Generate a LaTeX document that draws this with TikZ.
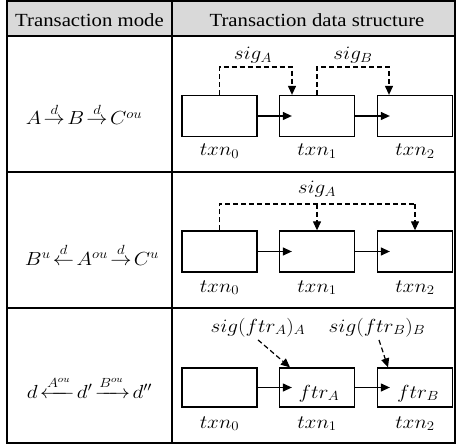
\documentclass[tikz,border=0pt]{standalone}
\usepackage{fix-cm}
\usepackage{amsmath}
\usepackage{fontspec}
\setmainfont{Liberation Serif}
\usetikzlibrary{arrows.meta}
\newcommand{\hs}[1]{\scalebox{1.12}[1]{#1}}
\tikzset{
  tbl/.style={line width=1.3bp, draw=black},
  tbox/.style={draw=black, line width=1.3bp, rectangle, minimum width=75bp, minimum height=41bp, inner sep=0pt},
  lbl/.style={anchor=base, inner sep=0pt, font=\fontsize{19}{21}\selectfont},
  hdrtxt/.style={anchor=base, inner sep=0pt, font=\fontsize{18.6}{20}\selectfont},
  arr/.style={line width=1.2bp, -{Triangle[length=9bp,width=8bp]}},
  dsh/.style={line width=1.2bp, dash pattern=on 5bp off 3bp},
  dsharr/.style={dsh, -{Triangle[length=9bp,width=8bp]}}
}
\begin{document}
\begin{tikzpicture}[x=1bp,y=-1bp]
\useasboundingbox (0,0) rectangle (457,445);
% table
\fill[black!15] (7,1) rectangle (455,36);
\draw[tbl] (7,1) rectangle (455,443);
\draw[tbl] (7,36) -- (455,36);
\draw[tbl] (7,172) -- (455,172);
\draw[tbl] (7,308) -- (455,308);
\draw[tbl] (172,1) -- (172,443);
% header
\node[hdrtxt] (h1) at (89.5,27) {\hs{Transaction mode}};
\node[hdrtxt] (h2) at (317,27) {\hs{Transaction data structure}};
% left column
\node[lbl] (m1) at (84,125) {\hs{$A\!\stackrel{d}{\to}\!B\!\stackrel{d}{\to}\!C^{ou}$}};
\node[lbl] (m2) at (92,265) {\hs{$B^{u}\!\stackrel{d}{\leftarrow}\!A^{ou}\!\stackrel{d}{\to}\!C^{u}$}};
\node[lbl] (m3) at (89.5,398) {\hs{$d\!\xleftarrow{A^{ou}}\!d'\!\xrightarrow{B^{ou}}\!d''$}};
% row 1
\node[tbox] (b10) at (219.5,116) {};
\node[tbox] (b11) at (317,116) {};
\node[tbox] (b12) at (415,116) {};
\draw[arr] (b10.east) -- ([xshift=13bp]b11.west);
\draw[arr] (b11.east) -- ([xshift=13bp]b12.west);
\node[lbl] (t10) at (219.5,156) {\hs{$txn_0$}};
\node[lbl] (t11) at (317,156) {\hs{$txn_1$}};
\node[lbl] (t12) at (415,156) {\hs{$txn_2$}};
\coordinate (r1a) at (219.5,67);
\coordinate (r1b) at (292,67);
\coordinate (r1c) at (317,67);
\coordinate (r1d) at (389,67);
\draw[dsharr] (b10.north) -- (r1a) -- (r1b) -- (r1b |- b11.north);
\draw[dsharr] (b11.north) -- (r1c) -- (r1d) -- (r1d |- b12.north);
\node[lbl] (s1a) at (253,60) {\hs{$sig_A$}};
\node[lbl] (s1b) at (353,60) {\hs{$sig_B$}};
% row 2
\node[tbox] (b20) at (219.5,251.5) {};
\node[tbox] (b21) at (317,251.5) {};
\node[tbox] (b22) at (415,251.5) {};
\draw[arr] (b20.east) -- ([xshift=13bp]b21.west);
\draw[arr] (b21.east) -- ([xshift=13bp]b22.west);
\node[lbl] (t20) at (219.5,292) {\hs{$txn_0$}};
\node[lbl] (t21) at (317,292) {\hs{$txn_1$}};
\node[lbl] (t22) at (415,292) {\hs{$txn_2$}};
\coordinate (r2a) at (219.5,204);
\coordinate (r2b) at (317,204);
\coordinate (r2c) at (415,204);
\draw[dsh] (b20.north) -- (r2a) -- (r2c);
\draw[dsharr] (r2b) -- (b21.north);
\draw[dsharr] (r2c) -- (b22.north);
\node[lbl] (s2a) at (317,194) {\hs{$sig_A$}};
% row 3
\node[tbox, minimum height=39bp] (b30) at (219.5,387.5) {};
\node[tbox, minimum height=39bp] (b31) at (317,387.5) {};
\node[tbox, minimum height=39bp] (b32) at (415,387.5) {};
\draw[arr] (b30.east) -- ([xshift=13bp]b31.west);
\draw[arr] (b31.east) -- ([xshift=13bp]b32.west);
\node[lbl] (f31) at (319,398) {\hs{$ftr_A$}};
\node[lbl] (f32) at (418,398) {\hs{$ftr_B$}};
\node[lbl] (t30) at (219.5,428) {\hs{$txn_0$}};
\node[lbl] (t31) at (317,428) {\hs{$txn_1$}};
\node[lbl] (t32) at (415,428) {\hs{$txn_2$}};
\node[lbl] (s3a) at (258,332) {\hs{$sig(ftr_A)_A$}};
\node[lbl] (s3b) at (377,332) {\hs{$sig(ftr_B)_B$}};
\draw[dsharr] ([yshift=-3bp]s3a.south) -- ([xshift=-27bp]b31.north);
\draw[dsharr] ([xshift=2bp,yshift=-3bp]s3b.south) -- ([xshift=-27bp]b32.north);
\end{tikzpicture}
\end{document}
